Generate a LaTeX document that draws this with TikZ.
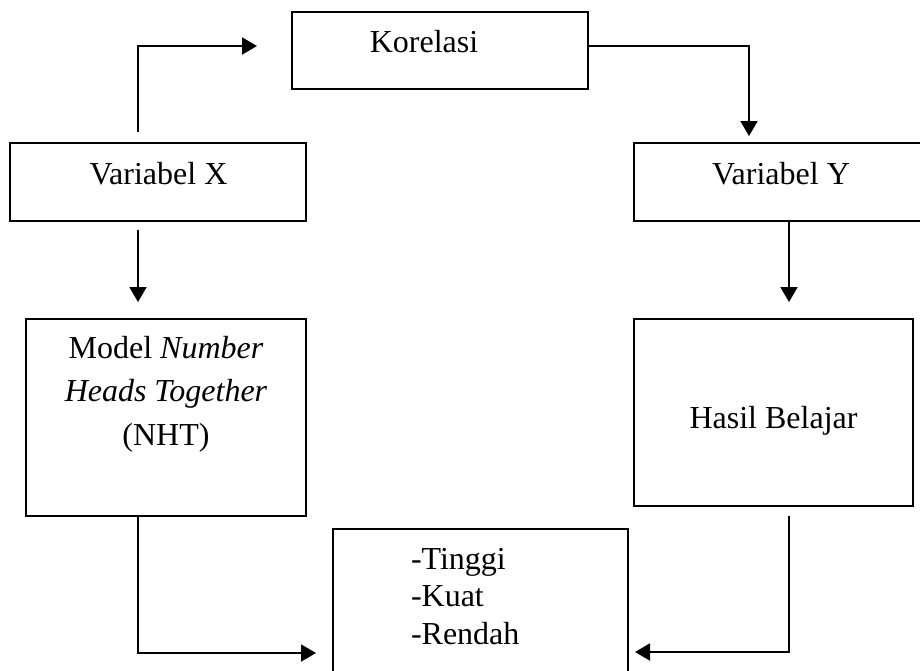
\documentclass[tikz,border=0pt]{standalone}
\usepackage{fontspec}
\setmainfont{Liberation Serif}
\usetikzlibrary{arrows.meta}

\begin{document}
\begin{tikzpicture}[x=0.5pt,y=-0.5pt,
  box/.style={draw,line width=1pt,inner sep=0pt,outer sep=0pt},
  txt/.style={font=\fontsize{16}{21.75}\selectfont,inner sep=0pt,outer sep=0pt},
  arr/.style={line width=1pt,-{Triangle[length=7.5pt,width=8.5pt]}}
]
\useasboundingbox (0,0) rectangle (920,670);

% Boxes
\node[box,minimum width=148pt,minimum height=38.5pt] (kor) at (440,50.5) {};
\node[box,minimum width=148pt,minimum height=39pt] (varx) at (158,182) {};
\node[box,minimum width=148pt,minimum height=39pt] (vary) at (782,182) {};
\node[box,minimum width=140pt,minimum height=98.5pt] (nht) at (166,417.5) {};
\node[box,minimum width=139.5pt,minimum height=93.5pt] (hasil) at (773.5,412.5) {};
\node[box,minimum width=147.5pt,minimum height=85.5pt] (hub) at (480.5,614.5) {};

% Texts
\node[txt,anchor=base] (kortxt) at (424,52) {Korelasi};
\node[txt,anchor=base] (varxtxt) at (158.5,184) {Variabel X};
\node[txt,anchor=base] (varytxt) at (781,184) {Variabel Y};
\node[txt,anchor=base,align=center] (nhttxt) at (166,445)
  {Model \textit{Number}\\ \textit{Heads Together}\\ (NHT)};
\node[txt,anchor=base] (hasiltxt) at (773.5,428) {Hasil Belajar};
\node[txt,anchor=base west,align=left,font=\fontsize{16}{18.75}\selectfont] (hubtxt) at (411,644)
  {-Tinggi\\ -Kuat\\ -Rendah};

% Arrows
\draw[arr] ([xshift=-10pt,yshift=5.5pt]varx.north) |- ([xshift=-17.5pt,yshift=2.25pt]kor.west);
\draw[arr] ([yshift=2.25pt]kor.east) -| ([xshift=-16.5pt,yshift=3.5pt]vary.north);
\draw[arr] ([xshift=-10pt,yshift=-4.5pt]varx.south) -- ([xshift=-14pt,yshift=8.5pt]nht.north);
\draw[arr] ([xshift=3.5pt]vary.south) -- ([xshift=7.75pt,yshift=8.5pt]hasil.north);
\draw[arr] ([xshift=-14pt]nht.south) |- ([xshift=-8.5pt,yshift=-19.25pt]hub.west);
\draw[arr] ([xshift=7.75pt,yshift=-5pt]hasil.south) |- ([xshift=3.5pt,yshift=-18.75pt]hub.east);

\end{tikzpicture}
\end{document}
